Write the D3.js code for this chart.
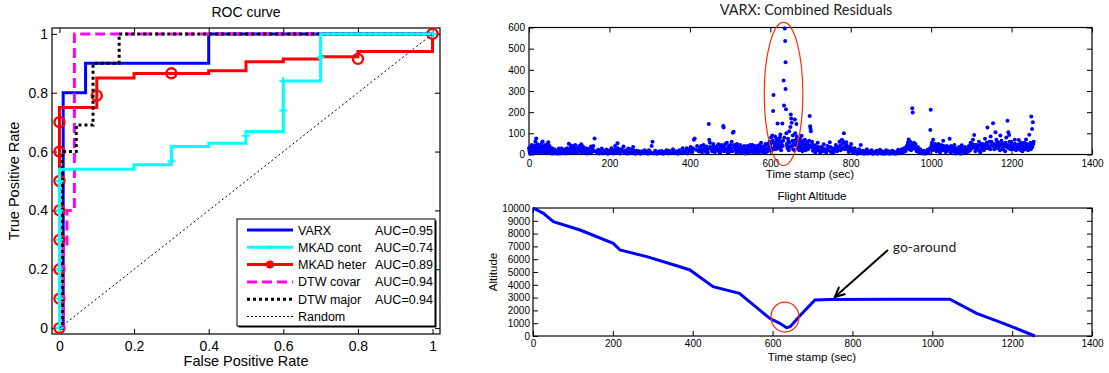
<!DOCTYPE html>
<html>
<head>
<meta charset="utf-8">
<script src="https://cdn.jsdelivr.net/npm/d3@7"></script>
<style>
body { margin:0; background:#fff; }
svg text { font-family: "Liberation Sans", Arial, Helvetica, sans-serif; fill:#000; }
</style>
</head>
<body>
<script>

//
//**   Dane   **/
//

var rocTicks = [0, 0.2, 0.4, 0.6, 0.8, 1];

// ROC step points [fpr, tpr] (step after)
var rocVarx  = [[0,0],[0.01,0.8],[0.07,0.9],[0.4,1],[1,1]];
var rocCont  = [[0,0],[0,0.54],[0.2,0.555],[0.3,0.617],[0.4,0.628],[0.5,0.668],[0.6,0.84],[0.7,1],[1,1]];
var rocHeter = [[0,0],[0,0.75],[0.1,0.85],[0.2,0.865],[0.4,0.875],[0.5,0.905],[0.6,0.915],[0.7,0.922],[0.8,0.94],[1,1]];
var rocCovar = [[0,0],[0.01,0.28],[0.02,0.4],[0.04,1],[1,1]];
var rocMajor = [[0,0],[0.008,0.6],[0.045,0.69],[0.09,0.9],[0.16,1],[1,1]];
var rocRandom = [[0,0],[1,1]];

var contMarks  = [[0,0],[0,0.1],[0,0.2],[0,0.3],[0,0.4],[0,0.5],[0.3,0.567],[0.5,0.654],[0.6,0.74],[0.6,0.84],[0.7,0.92],[1,1]];
var heterMarks = [[0,0],[0,0.1],[0,0.2],[0,0.3],[0,0.4],[0,0.5],[0,0.6],[0,0.7],[0.1,0.79],[0.3,0.866],[0.8,0.915],[1,1]];

var legendNames = ["VARX", "MKAD cont", "MKAD heter", "DTW covar", "DTW major", "Random"];
var legendAuc   = ["AUC=0.95", "AUC=0.74", "AUC=0.89", "AUC=0.94", "AUC=0.94", ""];

var timeTicks  = [0, 200, 400, 600, 800, 1000, 1200, 1400];
var residTicks = [0, 100, 200, 300, 400, 500, 600];
var altTicks   = [0, 1000, 2000, 3000, 4000, 5000, 6000, 7000, 8000, 9000, 10000];

// combined residuals [time, value]
var residPoints = [
  [0,30],[2,12],[4,38],[6,22],[8,8],[10,26],[12,15],[14,42],[16,62],[18,76],[20,30],[22,18],[24,45],[26,10],[28,35],[30,25],[32,55],[34,62],[36,20],[38,40],[40,12],[42,28],[44,8],[46,50],[48,58],[50,30],[52,15],[54,22],[56,5],[58,18],[60,10],[63,25],[66,8],[69,15],[72,5],[75,20],[78,12],[81,28],[84,6],[87,18],[90,10],[93,22],[96,14],[99,51],[100,8],
  [103,30],[106,12],[109,40],[112,20],[115,45],[118,8],[121,25],[124,35],[127,15],[130,48],[133,22],[136,10],[139,30],[142,18],[145,5],[148,26],[151,12],[154,38],[157,20],[160,40],[163,76],[166,15],[169,8],[172,22],[175,5],[178,14],[181,28],[184,6],[187,18],[190,10],[193,24],[196,4],[199,16],
  [202,8],[205,30],[208,12],[211,20],[214,40],[217,10],[220,53],[223,18],[226,5],[229,25],[232,14],[235,38],[238,8],[241,20],[244,4],[247,28],[250,12],[253,6],[256,22],[259,35],[262,10],[265,3],[268,18],[271,8],[274,15],[277,4],[280,12],[284,6],[288,20],[292,8],[296,3],[300,14],
  [303,10],[305,40],[307,60],[310,5],[314,18],[318,4],[322,12],[326,6],[330,16],[334,3],[338,10],[342,20],[346,5],[350,12],[354,8],[358,25],[362,6],[366,15],[370,3],[374,20],[378,10],[382,30],[386,8],[390,18],[394,5],[398,25],[402,35],[406,12],[410,70],[412,76],[415,22],[418,40],
  [422,15],[426,30],[430,10],[434,45],[438,20],[442,38],[445,8],[447,144],[448,70],[450,55],[453,25],[456,15],[459,40],[462,12],[465,30],[468,20],[471,48],[474,10],[477,35],[480,25],[483,135],[484,127],[486,40],[489,18],[492,55],[495,30],[498,12],[501,45],[504,60],[507,103],[509,108],[511,35],[514,22],[517,50],[520,15],[523,30],[526,8],[529,25],[532,12],[535,40],[538,5],[541,18],[544,30],[547,10],[550,45],[553,20],[556,45],[559,8],[562,28],[565,15],[568,40],[571,22],[574,12],[577,55],[580,30],[583,18],[586,40],[589,10],[592,50],[595,25],[598,60],
  [600,35],[602,80],[604,20],[605,90],[607,206],[608,281],[609,55],[611,40],[612,85],[614,25],[616,60],[618,146],[619,30],[621,70],[623,45],[625,95],[627,20],[628,60],[630,146],[631,40],[633,350],[634,232],[635,80],[636,595],[637,536],[638,436],[638,309],[639,214],[640,100],[641,50],[643,30],[644,75],[646,20],[647,110],[648,55],[650,130],[651,189],[652,170],[653,150],[654,40],[656,90],[657,25],[659,65],[661,165],[662,100],[663,45],[665,144],[666,85],[668,30],[670,60],[672,20],[674,75],[676,40],[678,88],[680,15],[682,55],[684,30],[686,70],[688,20],[690,45],[692,60],[694,25],[696,40],[698,182],[699,134],[700,122],[701,110],[703,35],
  [706,18],[709,45],[712,10],[715,30],[718,55],[721,20],[724,8],[727,35],[730,15],[733,48],[736,25],[739,10],[742,40],[745,20],[748,58],[751,12],[754,30],[757,8],[760,22],[763,45],[766,15],[769,35],[772,60],[775,20],[778,70],[780,65],[783,100],[786,40],[789,58],[792,25],[795,12],[798,35],
  [801,50],[804,18],[807,8],[810,30],[813,15],[816,4],[819,22],[822,10],[825,45],[828,6],[831,18],[834,3],[837,12],[840,25],[843,5],[846,15],[849,8],[852,20],[855,3],[858,12],[861,6],[864,18],[867,4],[870,10],[873,22],[876,5],[879,14],[882,3],[885,10],[888,20],[891,6],[894,15],[897,3],[900,8],[903,18],[906,5],[909,12],[912,4],[915,10],[918,22],[921,6],[924,14],[927,25],[930,8],[933,30],[936,15],[939,40],
  [942,55],[944,71],[946,35],[948,60],[950,20],[953,219],[954,198],[956,45],[958,28],[961,50],[964,15],[967,35],[970,8],[973,25],[976,12],[979,5],[982,18],[985,4],[988,10],[991,22],[994,8],[997,30],[998,116],[999,211],[1001,45],[1003,20],[1005,70],[1007,35],[1010,50],[1013,15],[1016,40],[1019,25],[1022,10],[1025,45],[1028,20],[1030,65],[1033,30],[1036,12],[1039,40],[1042,22],[1046,74],[1049,8],[1052,30],[1055,15],[1058,45],[1061,5],[1064,20],[1067,10],[1070,35],[1073,3],[1076,44],[1079,15],[1082,25],[1085,8],[1088,30],[1091,12],[1094,40],[1097,20],[1098,55],
  [1101,30],[1104,70],[1107,92],[1110,15],[1113,45],[1116,25],[1119,60],[1122,10],[1125,35],[1128,50],[1131,20],[1134,75],[1137,40],[1140,127],[1142,30],[1145,60],[1148,85],[1151,45],[1154,148],[1157,25],[1160,105],[1162,70],[1165,40],[1168,55],[1171,20],[1172,90],[1175,65],[1178,35],[1181,50],[1184,15],[1187,80],[1190,160],[1192,105],[1194,92],[1196,40],[1199,60],[1202,25],[1205,48],[1208,70],[1211,20],[1214,45],[1218,68],[1221,30],[1224,55],[1227,15],[1230,40],[1233,25],[1236,71],[1238,50],[1241,20],[1244,93],[1247,55],[1249,179],[1251,120],[1253,152],[1255,60]
];

// more residuals in the dense low band [time, value]
var residBand = [
  [1,18],[3,5],[5,28],[7,45],[9,15],[11,35],[13,6],[15,20],[17,32],[19,12],[21,48],[23,25],[25,8],[27,22],[29,12],[31,40],[33,18],[35,30],[37,8],[39,25],[41,45],[43,15],[45,35],[47,20],[49,8],[51,40],[53,25],[55,12],[57,30],[59,5],[62,15],[65,20],[68,5],[71,12],[74,28],[77,5],[80,15],[83,20],[86,10],[89,25],[92,5],[95,30],[98,18],
  [101,20],[104,42],[107,25],[110,10],[113,32],[116,18],[119,30],[122,12],[125,40],[128,28],[131,10],[134,38],[137,20],[140,12],[143,28],[146,15],[149,8],[152,20],[155,10],[158,28],[161,15],
  [203,20],[209,5],[215,22],[221,30],[227,12],[233,20],[239,15],[245,10],[251,25],[257,8],[263,18],
  [282,15],[290,10],[298,20],[312,8],[324,15],[336,12],[348,18],[360,10],[372,12],[384,15],[392,30],[400,15],[404,20],[408,30],
  [424,25],[428,40],[432,20],[436,30],[440,12],[444,25],[451,35],[455,20],[458,50],[461,30],[464,15],[467,38],[470,25],[473,20],[476,12],[479,45],[482,30],[485,15],[488,50],[491,25],[494,10],[497,40],[500,20],[503,30],[506,15],[510,45],[513,40],[516,10],[519,35],[522,20],[525,45],[528,15],[531,35],[534,20],[537,25],[540,10],[543,40],[546,22],[549,15],[552,35],[555,12],[558,25],[561,40],[564,20],[567,10],[570,30],[573,45],[576,20],[579,38],[582,10],[585,25],[588,50],[591,30],[594,15],[597,40],
  [601,50],[603,30],[606,65],[610,25],[613,50],[615,75],[617,40],[620,55],[622,30],[624,80],[626,35],[629,45],[632,65],[642,40],[645,60],[649,35],[655,65],[658,50],[660,20],[664,70],[667,55],[669,40],[671,50],[673,35],[675,25],[677,60],[679,45],[681,30],[683,65],[685,40],[687,25],[689,55],[691,35],[693,50],[695,30],[697,65],[702,45],[704,60],[707,30],[710,25],[713,40],[716,20],[719,35],
  [725,20],[731,30],[737,15],[743,25],[749,35],[755,15],[761,30],[767,25],[773,40],[776,45],[779,30],[782,55],[785,25],[788,45],[791,40],[794,30],[797,20],
  [803,30],[809,20],[815,12],[821,25],[827,15],[833,8],[839,15],[845,10],[851,12],[857,5],[863,10],[869,15],[875,8],[881,12],[887,5],[893,8],[899,12],[905,15],[911,8],[917,15],[923,10],[929,15],[935,25],[938,30],
  [941,35],[943,45],[945,25],[947,40],[949,30],[951,45],[955,30],[957,55],[959,40],[962,30],[965,25],[968,20],[971,15],[974,10],[980,12],[986,8],[992,15],[995,20],[1000,30],[1002,55],[1004,40],[1006,25],[1009,30],[1012,40],[1015,25],[1018,50],[1021,30],[1024,20],[1027,35],[1031,40],[1034,20],[1037,30],[1040,15],[1044,35],[1047,25],[1050,40],[1053,20],[1056,30],[1059,12],[1063,30],[1066,25],[1069,15],[1072,20],[1075,30],[1078,25],[1081,12],[1084,35],[1087,20],[1090,25],[1093,15],[1096,30],[1099,40],
  [1102,50],[1105,35],[1108,45],[1111,25],[1114,30],[1117,40],[1120,20],[1123,50],[1126,25],[1129,35],[1132,45],[1135,30],[1138,55],[1141,45],[1144,35],[1147,25],[1150,60],[1153,40],[1156,50],[1159,30],[1161,45],[1164,60],[1167,30],[1170,45],[1173,40],[1176,50],[1179,25],[1182,40],[1185,55],[1188,35],[1191,45],[1193,30],[1195,60],[1197,25],[1200,45],[1203,35],[1206,30],[1209,50],[1212,40],[1215,25],[1217,35],[1220,50],[1223,20],[1226,40],[1229,30],[1232,55],[1235,35],[1237,25],[1240,45],[1243,30],[1246,40],[1248,25],[1250,45],[1252,35],[1254,50]
];

// flight altitude
var altTime  = [0, 26, 51, 118, 201, 218, 285, 368, 393, 451, 517, 593, 618, 635, 644, 669, 706, 744, 900, 1044, 1111, 1178, 1257];
var altValue = [10000, 9580, 8930, 8280, 7240, 6720, 6200, 5410, 5160, 3850, 3330, 1380, 990, 650, 730, 1600, 2810, 2860, 2880, 2880, 1770, 990, 0];

var width = 1109, height = 373;

var svg = d3.select("body").append("svg")
    .attr("width", width)
    .attr("height", height)

svg.append("rect").attr("width", width).attr("height", height).style("fill", "#fff")

// pudełko osi w stylu matlaba: ticki do środka na 4 bokach
function boxAxes(x, y, xt, yt, xfmt, yfmt, fs, padX, padY) {
    var x0 = x.range()[0], x1 = x.range()[1], y0 = y.range()[0], y1 = y.range()[1];
    var gx = svg.append("g").attr("transform", "translate(0," + y0 + ")")
        .call(d3.axisBottom(x).tickValues(xt).tickFormat(xfmt).tickSizeInner(-5).tickSizeOuter(0).tickPadding(padX))
    var gy = svg.append("g").attr("transform", "translate(" + x0 + ",0)")
        .call(d3.axisLeft(y).tickValues(yt).tickFormat(yfmt).tickSizeInner(-5).tickSizeOuter(0).tickPadding(padY))
    svg.append("g").attr("transform", "translate(0," + y1 + ")")
        .call(d3.axisTop(x).tickValues(xt).tickFormat("").tickSizeInner(-5).tickSizeOuter(0))
    svg.append("g").attr("transform", "translate(" + x1 + ",0)")
        .call(d3.axisRight(y).tickValues(yt).tickFormat("").tickSizeInner(-5).tickSizeOuter(0))
    svg.selectAll(".domain").remove()
    gx.selectAll("text").style("font-size", fs + "px")
    gy.selectAll("text").style("font-size", fs + "px")
    svg.append("rect")
        .attr("x", x0).attr("y", y1)
        .attr("width", x1 - x0).attr("height", y0 - y1)
        .style("fill", "none").style("stroke", "#000").style("stroke-width", 1.2)
}

//
//**   ROC   **/
//

var rx = d3.scaleLinear().domain([-0.02, 1.02]).range([52, 440]);
var ry = d3.scaleLinear().domain([-0.02, 1.02]).range([334, 28]);

boxAxes(rx, ry, rocTicks, rocTicks, d3.format(""), d3.format(""), 14, 7, 4)

svg.append("text")
    .attr("x", 246).attr("y", 17)
    .style("text-anchor", "middle").style("font-size", "14px")
    .text("ROC curve")

svg.append("text")
    .attr("x", 246).attr("y", 366)
    .style("text-anchor", "middle").style("font-size", "14.5px")
    .text("False Positive Rate")

svg.append("text")
    .attr("transform", "rotate(-90)")
    .attr("x", -181).attr("y", 19)
    .style("text-anchor", "middle").style("font-size", "14.5px")
    .text("True Positive Rate")

var stepLine = d3.line()
    .x(function(d) { return rx(d[0]); })
    .y(function(d) { return ry(d[1]); })
    .curve(d3.curveStepAfter)

var rocSeries = [
    {data: rocVarx,  colour: "#0000ff", dash: null},
    {data: rocHeter, colour: "#ff0000", dash: null},
    {data: rocCovar, colour: "#ff00ff", dash: "10,5"},
    {data: rocMajor, colour: "#000000", dash: "3,3"},
    {data: rocCont,  colour: "#00ffff", dash: null}
];

rocSeries.forEach(function(s) {
    svg.append("path")
        .attr("d", stepLine(s.data))
        .style("fill", "none")
        .style("stroke", s.colour)
        .style("stroke-width", 3)
        .style("stroke-dasharray", s.dash)
    if (s.data === rocHeter) {
        svg.selectAll(".heter").data(heterMarks).enter().append("circle")
            .attr("class", "heter")
            .attr("cx", function(d) { return rx(d[0]); })
            .attr("cy", function(d) { return ry(d[1]); })
            .attr("r", 5)
            .style("fill", "none").style("stroke", "#ff0000").style("stroke-width", 2.4)
    }
})

svg.selectAll(".cont").data(contMarks).enter().append("path")
    .attr("class", "cont")
    .attr("d", function(d) {
        var cx = rx(d[0]), cy = ry(d[1]);
        return "M" + (cx - 4) + "," + cy + "H" + (cx + 4) + "M" + cx + "," + (cy - 4) + "V" + (cy + 4);
    })
    .style("stroke", "#00ffff").style("stroke-width", 2)

svg.append("path")
    .attr("d", d3.line().x(function(d) { return rx(d[0]); }).y(function(d) { return ry(d[1]); })(rocRandom))
    .style("fill", "none").style("stroke", "#000").style("stroke-width", 1).style("stroke-dasharray", "2,2.5")

// legenda
var leg = svg.append("g").attr("transform", "translate(237,219)")
leg.append("rect").attr("x", 1.5).attr("y", 1.5).attr("width", 198).attr("height", 107).style("fill", "#000")
leg.append("rect").attr("width", 198).attr("height", 107)
    .style("fill", "#fff").style("stroke", "#000").style("stroke-width", 1)

var legStyle = [
    {colour: "#0000ff", w: 3, dash: null, mark: 0},
    {colour: "#00ffff", w: 3, dash: null, mark: 2},
    {colour: "#ff0000", w: 3, dash: null, mark: 4},
    {colour: "#ff00ff", w: 3, dash: "10,5", mark: 0},
    {colour: "#000000", w: 3, dash: "3,3", mark: 0},
    {colour: "#000000", w: 1, dash: "2,2", mark: 0}
];

legendNames.forEach(function(n, i) {
    var yy = 11 + i * 17.3;
    leg.append("line")
        .attr("x1", 10).attr("x2", 56).attr("y1", yy).attr("y2", yy)
        .style("stroke", legStyle[i].colour).style("stroke-width", legStyle[i].w)
        .style("stroke-dasharray", legStyle[i].dash)
    if (legStyle[i].mark) {
        leg.append("circle").attr("cx", 33).attr("cy", yy).attr("r", legStyle[i].mark)
            .style("fill", legStyle[i].colour)
    }
    leg.append("text").attr("x", 61).attr("y", yy + 4.5).style("font-size", "12.5px").text(n)
    leg.append("text").attr("x", 138).attr("y", yy + 4.5).style("font-size", "12.5px").text(legendAuc[i])
})

//
//**   VARX residuals   **/
//

var tx = d3.scaleLinear().domain([0, 1400]).range([529, 1092]);
var vy = d3.scaleLinear().domain([0, 600]).range([154.5, 27.5]);

boxAxes(tx, vy, timeTicks, residTicks, d3.format(""), d3.format(""), 10, 5, 4)

svg.append("text")
    .attr("x", 806).attr("y", 15)
    .style("text-anchor", "middle").style("font-size", "14.5px")
    .style("font-family", "Lato, 'Open Sans', sans-serif").style("fill", "#222")
    .text("VARX: Combined Residuals")

svg.append("text")
    .attr("x", 810).attr("y", 178)
    .style("text-anchor", "middle").style("font-size", "11.5px")
    .text("Time stamp (sec)")

svg.selectAll(".res").data(residBand.concat(residPoints)).enter().append("circle")
    .attr("class", "res")
    .attr("cx", function(d) { return tx(d[0]); })
    .attr("cy", function(d) { return vy(d[1]); })
    .attr("r", 2)
    .style("fill", "#0000ff")

svg.append("ellipse")
    .attr("cx", tx(633)).attr("cy", vy(286))
    .attr("rx", tx(48) - tx(0)).attr("ry", vy(0) - vy(338))
    .style("fill", "none").style("stroke", "#ff2a00").style("stroke-width", 1.2)

//
//**   Flight altitude   **/
//

var ax = d3.scaleLinear().domain([0, 1400]).range([533, 1092]);
var ay = d3.scaleLinear().domain([0, 10000]).range([336, 208]);

boxAxes(ax, ay, timeTicks, altTicks, d3.format(""), d3.format(""), 10, 4, 3)

svg.append("text")
    .attr("x", 812).attr("y", 200)
    .style("text-anchor", "middle").style("font-size", "11.5px")
    .text("Flight Altitude")

svg.append("text")
    .attr("x", 812).attr("y", 361)
    .style("text-anchor", "middle").style("font-size", "11.5px")
    .text("Time stamp (sec)")

svg.append("text")
    .attr("transform", "rotate(-90)")
    .attr("x", -272).attr("y", 497)
    .style("text-anchor", "middle").style("font-size", "11.5px")
    .text("Altitude")

svg.append("path")
    .attr("d", d3.line()
        .x(function(d, i) { return ax(altTime[i]); })
        .y(function(d) { return ay(d); })(altValue))
    .style("fill", "none").style("stroke", "#0000ff").style("stroke-width", 3)

svg.append("ellipse")
    .attr("cx", ax(631)).attr("cy", ay(1480))
    .attr("rx", ax(35) - ax(0)).attr("ry", ay(0) - ay(1170))
    .style("fill", "none").style("stroke", "#ff2a00").style("stroke-width", 1.2)

// strzałka go-around
var ax0 = ax(889), ay0 = ay(6720), ax1 = ax(756), ay1 = ay(3050);
var ang = Math.atan2(ay1 - ay0, ax1 - ax0);
svg.append("line")
    .attr("x1", ax0).attr("y1", ay0).attr("x2", ax1).attr("y2", ay1)
    .style("stroke", "#000").style("stroke-width", 2)
svg.append("path")
    .attr("d", "M" + (ax1 - 11 * Math.cos(ang - 0.45)) + "," + (ay1 - 11 * Math.sin(ang - 0.45)) +
        "L" + ax1 + "," + ay1 +
        "L" + (ax1 - 11 * Math.cos(ang + 0.45)) + "," + (ay1 - 11 * Math.sin(ang + 0.45)))
    .style("fill", "none").style("stroke", "#000").style("stroke-width", 2)

svg.append("text")
    .attr("x", ax(901)).attr("y", ay(6600))
    .style("font-size", "14px")
    .style("font-family", "Lato, 'Open Sans', sans-serif").style("fill", "#222")
    .text("go-around")

</script>
</body>
</html>
